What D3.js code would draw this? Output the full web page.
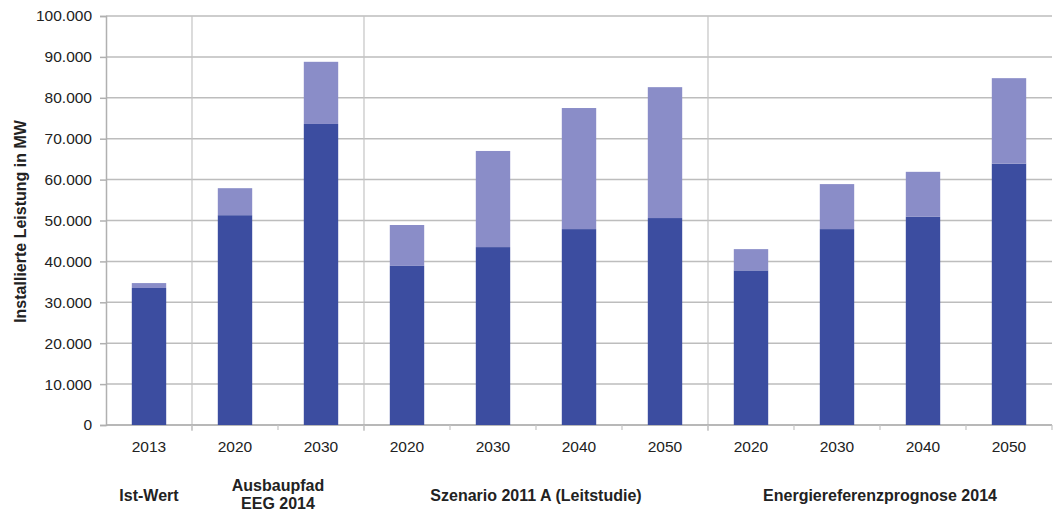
<!DOCTYPE html>
<html>
<head>
<meta charset="utf-8">
<script src="https://cdn.jsdelivr.net/npm/d3@7"></script>
<style>
  html, body { margin: 0; padding: 0; background: #fff; }
  svg { display: block; font-family: "Liberation Sans", Arial, Helvetica, sans-serif; }
</style>
</head>
<body>
<div id="chart"></div>
<script>
// Installed capacity (MW) per scenario and year
const categories = ["2013", "2020", "2030", "2020", "2030", "2040", "2050", "2020", "2030", "2040", "2050"];
const groupOf    = [0, 1, 1, 2, 2, 2, 2, 3, 3, 3, 3];
const groups     = [["Ist-Wert"], ["Ausbaupfad", "EEG 2014"], ["Szenario 2011 A (Leitstudie)"], ["Energiereferenzprognose 2014"]];
const baseValues = [33500, 51300, 73600, 38900, 43500, 47900, 50600, 37800, 47900, 50900, 63900];
const totals     = [34700, 57900, 88800, 48900, 67000, 77500, 82600, 43000, 58900, 61900, 84800];
const yTicks     = [0, 10000, 20000, 30000, 40000, 50000, 60000, 70000, 80000, 90000, 100000];

const width = 1055, height = 511;
const margin = { top: 16, right: 3, bottom: 86, left: 106 };

const svg = d3.select("#chart").append("svg")
  .attr("width", width).attr("height", height);

const x = d3.scaleBand()
  .domain(d3.range(categories.length))
  .range([margin.left, width - margin.right])
  .paddingInner(0.6).paddingOuter(0.3);

const y = d3.scaleLinear()
  .domain([0, 100000])
  .range([height - margin.bottom, margin.top]);

const de = d3.formatLocale({ decimal: ",", thousands: ".", grouping: [3], currency: ["", " €"] });
const fmt = de.format(",.0f");

// left edge of category cell i (i may equal categories.length for the right edge)
const step = x.step();
const cellLeft = i => x.range()[0] + i * step;

// horizontal grid
svg.append("g").selectAll("line").data(yTicks).join("line")
  .attr("x1", margin.left).attr("x2", width - margin.right)
  .attr("y1", d => y(d)).attr("y2", d => y(d))
  .attr("stroke", "#bdbdbd").attr("stroke-width", 1.5);

// group separators
const boundaries = d3.range(1, categories.length).filter(i => groupOf[i] !== groupOf[i - 1]);
svg.append("g").selectAll("line").data(boundaries).join("line")
  .attr("x1", i => cellLeft(i)).attr("x2", i => cellLeft(i))
  .attr("y1", y(100000)).attr("y2", y(0) + 6)
  .attr("stroke", "#c4c4c4").attr("stroke-width", 1.2);

// y axis
const yAxis = svg.append("g")
  .attr("transform", `translate(${margin.left},0)`)
  .call(d3.axisLeft(y).tickValues(yTicks).tickFormat(fmt).tickSize(6).tickPadding(8));
yAxis.select(".domain").attr("stroke", "#b0b0b0").attr("stroke-width", 1.5);
yAxis.selectAll(".tick line").attr("stroke", "#b0b0b0").attr("stroke-width", 1.5);
yAxis.selectAll("text").attr("font-size", 15.5).attr("fill", "#222");

// x axis
const xAxisG = svg.append("g").attr("transform", `translate(0,${y(0)})`);
xAxisG.append("line")
  .attr("x1", margin.left).attr("x2", width - margin.right)
  .attr("stroke", "#b0b0b0").attr("stroke-width", 1.5);
xAxisG.selectAll("line.tk").data(d3.range(1, categories.length + 1)).join("line")
  .attr("class", "tk")
  .attr("x1", i => cellLeft(i)).attr("x2", i => cellLeft(i))
  .attr("y1", 0).attr("y2", 5)
  .attr("stroke", "#c4c4c4").attr("stroke-width", 1.2);
xAxisG.selectAll("text").data(categories).join("text")
  .attr("x", (d, i) => x(i) + x.bandwidth() / 2)
  .attr("y", 27)
  .attr("text-anchor", "middle")
  .attr("font-size", 15.5).attr("fill", "#222")
  .text(d => d);

// stacked bars
const bars = svg.append("g");
bars.selectAll("rect.base").data(baseValues).join("rect")
  .attr("class", "base")
  .attr("x", (d, i) => x(i)).attr("width", x.bandwidth())
  .attr("y", d => y(d)).attr("height", d => y(0) - y(d))
  .attr("fill", "#3c4da0");
bars.selectAll("rect.add").data(totals).join("rect")
  .attr("class", "add")
  .attr("x", (d, i) => x(i)).attr("width", x.bandwidth())
  .attr("y", d => y(d)).attr("height", (d, i) => y(baseValues[i]) - y(d))
  .attr("fill", "#8a8dc8");

// group labels
groups.forEach((lines, g) => {
  const idx = d3.range(categories.length).filter(i => groupOf[i] === g);
  const cx = (cellLeft(idx[0]) + cellLeft(idx[idx.length - 1] + 1)) / 2;
  const t = svg.append("text")
    .attr("text-anchor", "middle")
    .attr("font-size", 16).attr("font-weight", "bold").attr("fill", "#222");
  const y0 = lines.length === 1 ? 501 : 491;
  lines.forEach((l, k) => {
    t.append("tspan").attr("x", cx).attr("y", y0 + k * 18).text(l);
  });
});

// y axis title
svg.append("text")
  .attr("transform", `translate(26,${(y(0) + y(100000)) / 2 + 1}) rotate(-90)`)
  .attr("text-anchor", "middle")
  .attr("font-size", 16).attr("font-weight", "bold").attr("fill", "#222")
  .text("Installierte Leistung in MW");
</script>
</body>
</html>
